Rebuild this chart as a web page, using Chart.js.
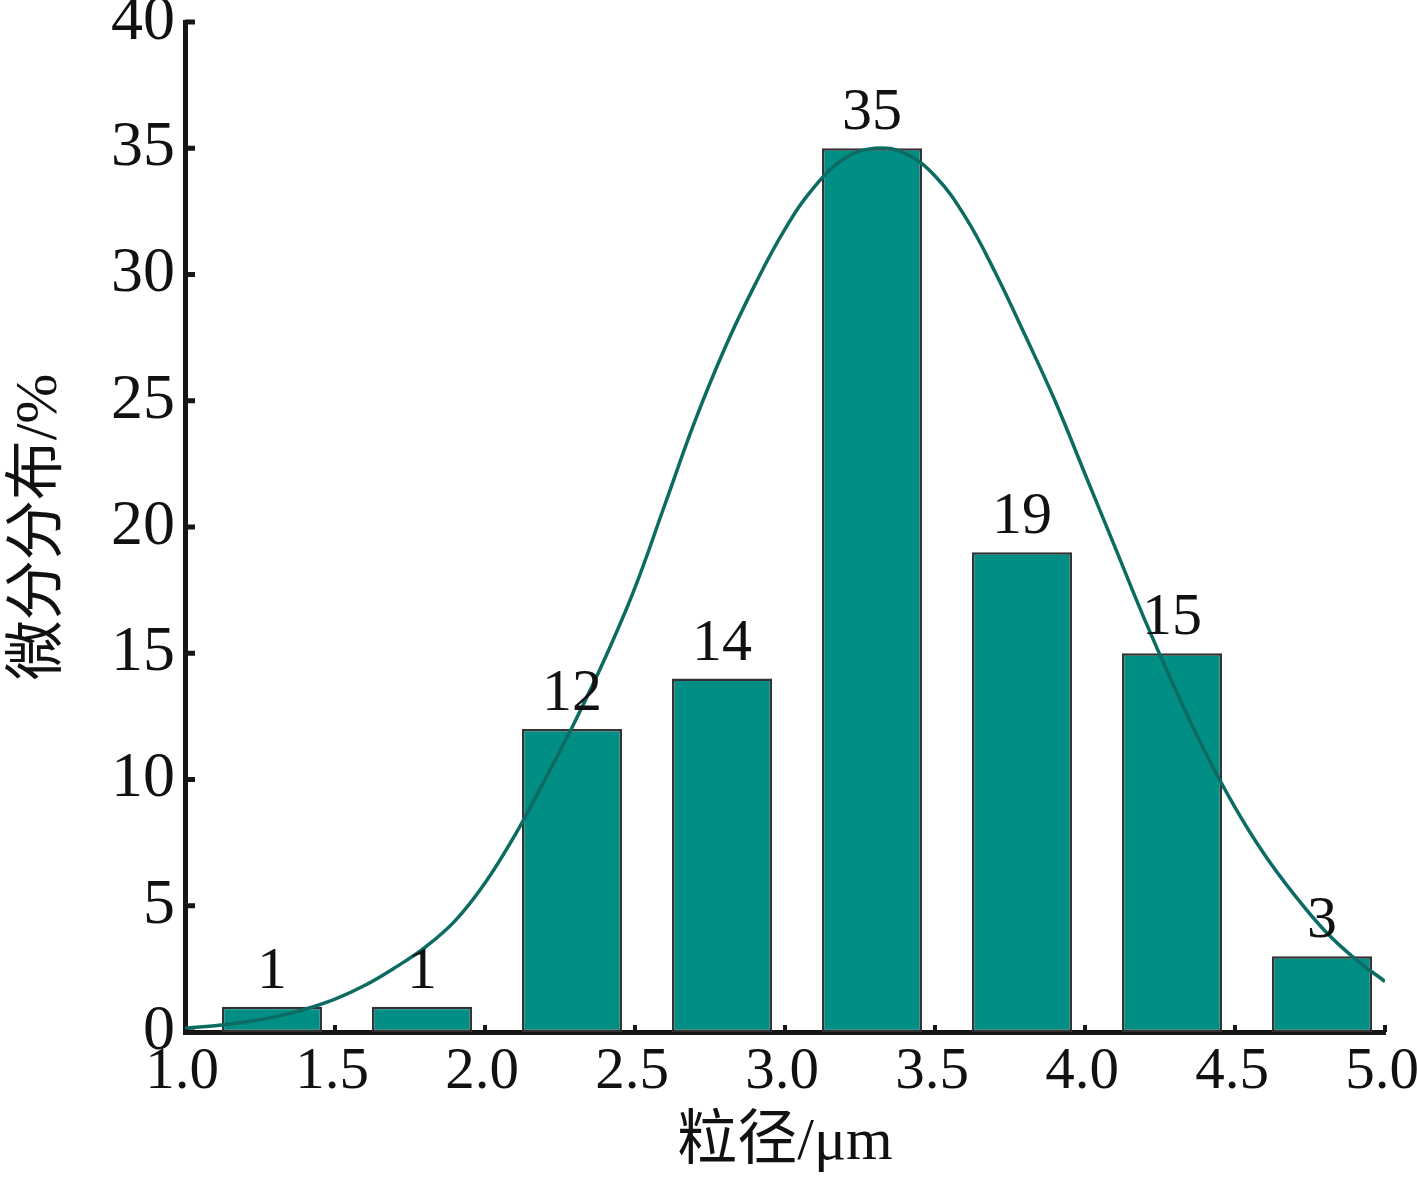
<!DOCTYPE html>
<html>
<head>
<meta charset="utf-8">
<script src="https://cdn.jsdelivr.net/npm/chart.js@4/dist/chart.umd.min.js"></script>
<style>
  html, body { margin: 0; padding: 0; background: #fff; }
  #wrap { width: 1417px; height: 1181px; position: relative; }
</style>
</head>
<body>
<div id="wrap"><canvas id="c"></canvas></div>
<script>
// ---- data ----
const barCenters = [1.29, 1.79, 2.29, 2.79, 3.29, 3.79, 4.29, 4.79];
const barValues  = [1, 1, 12, 14, 35, 19, 15, 3];
const barLabels  = ['1', '1', '12', '14', '35', '19', '15', '3'];

const curveX = [1.0, 1.1, 1.2, 1.3, 1.4, 1.5, 1.6, 1.7, 1.8, 1.9,
                2.0, 2.1, 2.2, 2.3, 2.4, 2.5, 2.6, 2.7, 2.8, 2.9,
                3.0, 3.1, 3.2, 3.3, 3.4, 3.5, 3.6, 3.7, 3.8, 3.9,
                4.0, 4.1, 4.2, 4.3, 4.4, 4.5, 4.6, 4.7, 4.8, 4.9, 5.0];
const curveY = [0.15, 0.25, 0.4, 0.6, 0.9, 1.3, 1.85, 2.55, 3.35, 4.4,
                5.9, 7.8, 10.0, 12.3, 14.8, 17.6, 20.9, 24.2, 27.1, 29.6,
                31.8, 33.5, 34.6, 35.0, 34.8, 33.9, 32.3, 30.1, 27.6, 25.0,
                22.1, 19.2, 16.3, 13.6, 11.1, 8.9, 7.0, 5.4, 4.0, 2.9, 2.0];

const xTicks = [1.0, 1.5, 2.0, 2.5, 3.0, 3.5, 4.0, 4.5, 5.0];
const xTickLabels = ['1.0', '1.5', '2.0', '2.5', '3.0', '3.5', '4.0', '4.5', '5.0'];
const yTicks = [0, 5, 10, 15, 20, 25, 30, 35, 40];
const yTickLabels = ['0', '5', '10', '15', '20', '25', '30', '35', '40'];

const xTitle = '粒径/μm';
const yTitle = '微分分布/%';

// ---- styles ----
const SERIF = '"Liberation Serif", "Times New Roman", "Noto Sans CJK SC", serif';
const BAR_FILL = '#008e85';
const BAR_EDGE = '#333333';
const CURVE = '#0c6b63';
const AXIS = '#161616';

const barData = barCenters.map((x, i) => ({ x: x, y: barValues[i] }));
const curveData = curveX.map((x, i) => ({ x: x, y: curveY[i] }));

const innerTicks = {
  id: 'innerTicks',
  afterDraw(chart) {
    const ctx = chart.ctx;
    const xs = chart.scales.x, ys = chart.scales.y;
    const area = chart.chartArea;
    ctx.save();
    ctx.fillStyle = AXIS;
    yTicks.forEach(v => {
      const py = ys.getPixelForValue(v);
      ctx.fillRect(area.left, py - 2.5, 10, 5);
    });
    xTicks.forEach(v => {
      if (v === xTicks[0]) return;
      const px = xs.getPixelForValue(v);
      ctx.fillRect(px - 2, area.bottom - 7, 4, 7);
    });
    ctx.restore();
  }
};

const barValueLabels = {
  id: 'barValueLabels',
  afterDatasetsDraw(chart) {
    const ctx = chart.ctx;
    const meta = chart.getDatasetMeta(0);
    ctx.save();
    ctx.font = '60px ' + SERIF;
    ctx.fillStyle = '#111';
    ctx.textAlign = 'center';
    ctx.textBaseline = 'alphabetic';
    meta.data.forEach((el, i) => {
      ctx.fillText(barLabels[i], el.x, el.y - 19);
    });
    ctx.restore();
  }
};

new Chart(document.getElementById('c'), {
  type: 'bar',
  data: {
    datasets: [
      {
        type: 'bar',
        data: barData,
        backgroundColor: BAR_FILL,
        borderColor: BAR_EDGE,
        borderWidth: 2.5,
        borderSkipped: false,
        barPercentage: 0.667,
        categoryPercentage: 1.0,
        order: 2
      },
      {
        type: 'line',
        data: curveData,
        borderColor: CURVE,
        borderWidth: 3.5,
        pointRadius: 0,
        tension: 0.4,
        fill: false,
        order: 1
      }
    ]
  },
  options: {
    responsive: true,
    maintainAspectRatio: false,
    animation: false,
    events: [],
    layout: { padding: { top: 22, right: 32, left: 0, bottom: 0 } },
    plugins: {
      legend: { display: false },
      tooltip: { enabled: false }
    },
    scales: {
      x: {
        type: 'linear',
        min: 1.0,
        max: 5.0,
        offset: false,
        afterBuildTicks(scale) { scale.ticks = xTicks.map(v => ({ value: v })); },
        afterFit(scale) { scale.height = 149; scale.paddingLeft = 0; scale.paddingRight = 0; },
        grid: { display: false, drawTicks: false },
        border: { display: true, color: AXIS, width: 5 },
        ticks: {
          color: '#111',
          font: { family: SERIF, size: 59 },
          padding: 5,
          labelOffset: -3,
          maxRotation: 0,
          autoSkip: false,
          callback: (v, i) => xTickLabels[i]
        },
        title: {
          display: true,
          text: xTitle,
          color: '#111',
          font: { family: SERIF, size: 60 },
          padding: { top: 0, bottom: 2 }
        }
      },
      y: {
        type: 'linear',
        min: 0,
        max: 40,
        afterBuildTicks(scale) { scale.ticks = yTicks.map(v => ({ value: v })); },
        afterFit(scale) { scale.width = 185; scale.paddingTop = 0; scale.paddingBottom = 0; },
        grid: { display: false, drawTicks: false },
        border: { display: true, color: AXIS, width: 5 },
        ticks: {
          color: '#111',
          font: { family: SERIF, size: 64 },
          padding: 10,
          autoSkip: false,
          callback: (v, i) => yTickLabels[i]
        },
        title: {
          display: true,
          text: yTitle,
          color: '#111',
          font: { family: SERIF, size: 60 },
          padding: { top: 4, bottom: 0 }
        }
      }
    }
  },
  plugins: [innerTicks, barValueLabels]
});
</script>
</body>
</html>
